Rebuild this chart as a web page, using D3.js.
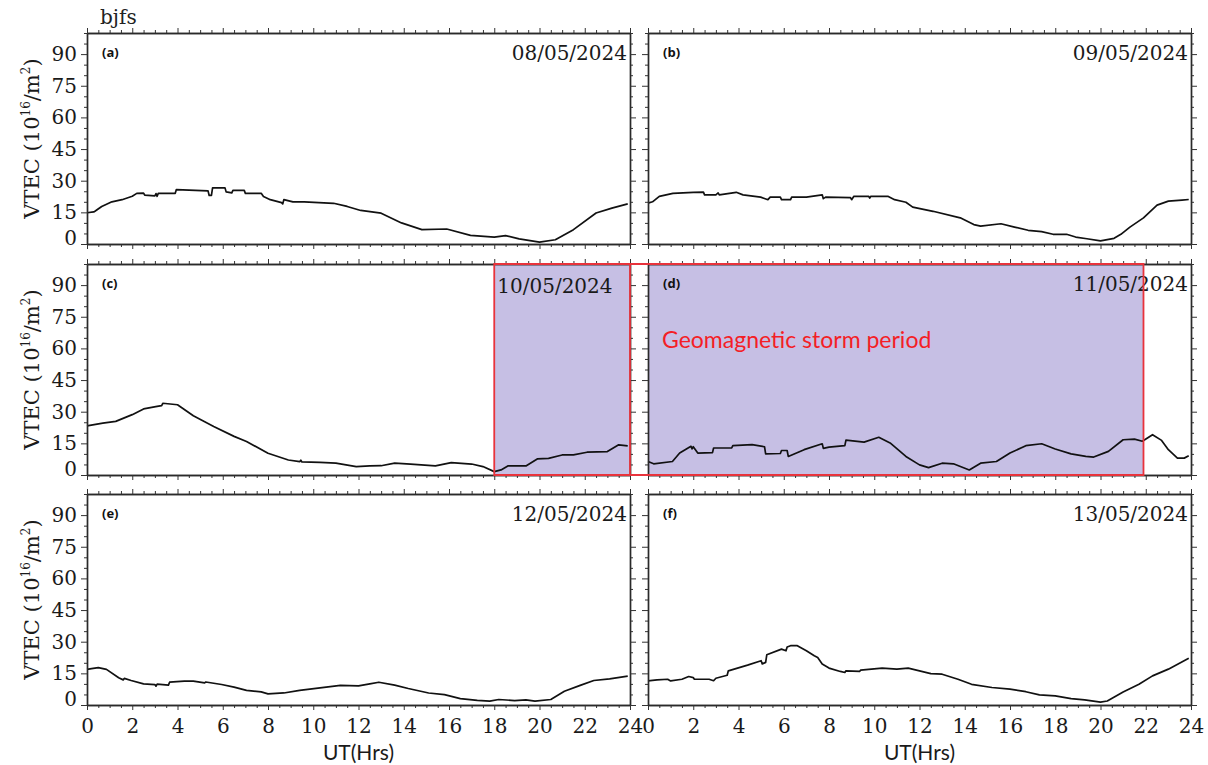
<!DOCTYPE html>
<html><head><meta charset="utf-8">
<script src="https://cdn.jsdelivr.net/npm/d3@7"></script>
<style>body{margin:0;background:#fff} svg{display:block}</style>
</head><body><svg id="chart" width="1208" height="765"></svg>
<script>
// ---------------- data ----------------
const station = "bjfs";
const panelLetters = ["(a)", "(b)", "(c)", "(d)", "(e)", "(f)"];
const dates = ["08/05/2024", "09/05/2024", "10/05/2024", "11/05/2024", "12/05/2024", "13/05/2024"];
const yTickValues = [0, 15, 30, 45, 60, 75, 90];
const xTickValues = [0, 2, 4, 6, 8, 10, 12, 14, 16, 18, 20, 22, 24];
const xAxisTitle = "UT(Hrs)";
const stormLabel = "Geomagnetic storm period";
const stormStartHour = 18;   // on 10/05/2024 (panel c)
const stormEndHour = 21.9;   // on 11/05/2024 (panel d)

const hoursA = [0,0.3,0.35,0.65,1.1,1.55,2.0,2.2,2.5,2.55,3.0,3.05,3.1,3.15,3.9,3.95,5.35,5.4,5.5,5.55,6.1,6.15,6.4,6.45,6.95,7.0,7.7,7.8,8.1,8.6,8.65,8.7,9.1,9.6,10.9,11.5,12.1,13.0,13.9,14.8,15.9,16.95,18.0,18.5,19.1,20.0,20.7,21.5,22.5,23.2,23.9];
const vtecA  = [14.8,15.2,15.5,17.8,20,21,22.6,24,24.1,23.2,22.8,23.9,22.6,24,24,25.8,25.2,23,23,26.6,26.6,24.7,24.2,25.4,25.4,24,24,22.5,21,19.6,19,21,20,20,19.3,17.8,15.9,14.6,10,6.8,7.1,4.1,3.3,4,2.4,0.9,2,6.8,14.7,17,19];

const hoursB = [0,0.2,0.5,1.1,2.0,2.45,2.5,3.0,3.1,3.15,3.9,4.2,4.98,5.3,5.4,5.85,5.9,6.3,6.35,7.0,7.7,7.75,7.85,8.95,9.0,9.1,9.75,9.8,9.85,10.6,10.9,11.4,11.7,12.6,13.8,14.4,14.7,15.6,16.2,16.8,17.4,17.9,18.5,18.9,19.4,20.0,20.6,20.9,21.3,21.9,22.5,23.0,23.6,23.9];
const vtecB  = [19.4,20,22.6,24,24.5,24.6,23.3,23.3,24.2,23.3,24.5,23.3,22.2,21,22.2,22.2,21,21,22.2,22.2,23.3,21.5,22.2,22,21,22.6,22.6,21.8,22.6,22.6,21,19.8,17.5,15.5,12.4,9.2,8.5,9.6,8,6.5,5.9,4.6,4.6,3.3,2.5,1.5,2.7,4.6,8,12.4,18.4,20.3,20.8,21.1];

const hoursC = [0,0.7,1.27,2,2.5,3.1,3.3,3.35,4.0,4.7,5.6,6.5,7.05,8,8.9,9.4,9.45,9.5,10.3,11,11.9,12.5,13,13.6,14.3,15.4,16.1,17,17.5,18,18.3,18.6,19.4,19.9,20.4,21,21.5,22.1,23,23.5,23.9];
const vtecC  = [23.3,24.6,25.4,28.6,31.3,32.5,32.9,34,33.3,28.1,23,18.3,15.9,10.3,7.1,6.3,7,6.2,6,5.6,4,4.3,4.4,5.6,5.2,4.3,5.9,5.2,4,1.6,2.4,4.3,4.3,7.6,7.9,9.5,9.5,10.8,11.1,14.3,13.8];

const hoursD = [0,0.25,1.08,1.4,1.9,1.95,2.0,2.2,2.85,2.9,3.7,3.75,4.6,5.15,5.2,5.85,5.9,6.15,6.2,6.9,7.7,7.75,8.0,8.7,8.75,9.55,10.2,10.7,11.4,12.0,12.4,13.0,13.5,14.2,14.7,15.4,16.0,16.7,17.4,18.0,18.7,19.35,19.7,20.35,21.0,21.5,21.85,22.3,22.7,23.0,23.4,23.7,23.9];
const vtecD  = [6.4,5.3,6.4,10.4,13.6,12.4,13.4,10.4,10.6,12.8,12.8,13.9,14.4,13.4,10,10.2,11.6,11.6,8.8,12,14.8,12.6,13.2,13.9,16.5,15.6,17.9,15.2,8.8,4.8,3.5,5.6,5.3,2.4,5.6,6.4,10.4,13.9,14.8,12.3,10,8.8,8.5,11.2,16.7,17,16,19.1,16.4,12,8,8,9.1];

const hoursE = [0,0.2,0.5,0.86,1.4,1.6,1.65,1.95,2.5,3.0,3.05,3.1,3.6,3.65,4.3,4.7,5.2,5.25,5.95,6.5,7.05,7.7,8.0,8.7,9.4,10.3,11.2,12.0,12.5,12.9,13.6,14.2,15.1,15.8,16.5,17.25,17.8,18.2,18.9,19.4,19.8,20.5,21.1,21.8,22.4,23.1,23.9];
const vtecE  = [16.9,17.2,17.7,16.9,12.9,11.9,12.6,11.6,10,9.7,8.9,9.9,9.4,10.8,11.3,11.3,10.5,10.9,9.7,8.5,6.9,6.2,5.3,5.7,6.9,8.1,9.3,9.1,10,10.8,9.4,7.8,5.7,4.9,3,2.2,1.8,2.6,2.1,2.4,1.8,2.6,6.5,9.3,11.6,12.4,13.7];

const hoursF = [0,0.4,0.87,1.0,1.5,1.8,2.0,2.05,2.7,2.9,3.0,3.5,3.55,4.4,5.0,5.05,5.2,5.25,5.9,6.1,6.15,6.3,6.6,7.0,7.35,7.5,7.7,8.0,8.5,8.7,8.75,9.35,9.4,10.35,11.0,11.5,12.0,12.5,13.0,13.7,14.3,15.2,16.0,16.7,17.3,18.0,18.7,19.3,20.0,20.3,21.0,21.7,22.3,23.0,23.9];
const vtecF  = [11.4,11.9,12.2,11.4,12.2,13.5,13,12.2,12.2,11.5,12.7,14.1,16.2,18.9,21,19.5,20.2,23.8,26.5,25.7,27.5,28.1,28.1,25.7,23.3,22.5,19.4,17.5,15.9,15.4,16.2,15.9,16.5,17.5,17,17.5,16.2,14.9,14.6,12.2,9.8,8.3,7.5,6.3,4.8,4.3,3,2.4,1.4,1.9,6.2,9.8,13.8,17,22.1];

const panelHours = [hoursA, hoursB, hoursC, hoursD, hoursE, hoursF];
const panelVtec  = [vtecA, vtecB, vtecC, vtecD, vtecE, vtecF];

// ---------------- layout ----------------
const svg = d3.select("#chart");
const W = 543, H = 211;
const colX = [87, 648];
const rowY = [33, 264, 494];
const serif = "DejaVu Serif";
const stormFill = "#c6bfe4";
const stormRed = "#e8333c";

const minorY = d3.range(0, 101, 5).filter(v => v % 15 !== 0);
const minorX = d3.range(0, 24.01, 0.5).filter(v => v % 2 !== 0);

svg.append("text").attr("x", 100).attr("y", 24)
  .attr("font-family", serif).attr("font-size", 20).attr("fill", "#222").text(station);

const scales = [];

panelLetters.forEach((letter, i) => {
  const col = i % 2, row = Math.floor(i / 2);
  const left = colX[col], top = rowY[row];
  const x = d3.scaleLinear([0, 24], [left, left + W]);
  const y = d3.scaleLinear([0, 100], [top + H, top]);
  scales.push({x, y, top, left});
  const g = svg.append("g");

  // storm shading
  if (i === 2) {
    g.append("rect").attr("x", x(stormStartHour)).attr("y", top)
      .attr("width", x(24) - x(stormStartHour)).attr("height", H).attr("fill", stormFill);
  }
  if (i === 3) {
    g.append("rect").attr("x", x(0)).attr("y", top)
      .attr("width", x(stormEndHour) - x(0)).attr("height", H).attr("fill", stormFill);
  }

  // data line
  const pts = panelHours[i].map((h, k) => [h, panelVtec[i][k]]);
  g.append("path").datum(pts)
    .attr("d", d3.line().x(d => x(d[0])).y(d => y(d[1])))
    .attr("fill", "none").attr("stroke", "#111").attr("stroke-width", 1.7)
    .attr("stroke-linejoin", "round");

  const styleAxis = sel => {
    sel.select(".domain").attr("stroke", "#2a2a2a").attr("stroke-width", 1.4);
    sel.selectAll(".tick line").attr("stroke", "#333").attr("stroke-width", 1);
    sel.attr("font-family", serif).attr("font-size", 20);
    sel.selectAll(".tick text").attr("fill", "#1a1a1a");
  };

  // bottom
  g.append("g").attr("transform", `translate(0,${top + H})`)
    .call(d3.axisBottom(x).tickValues(minorX).tickSize(3).tickSizeOuter(0).tickFormat(""))
    .call(styleAxis);
  g.append("g").attr("transform", `translate(0,${top + H})`)
    .call(d3.axisBottom(x).tickValues(xTickValues).tickSize(5).tickSizeOuter(0).tickPadding(9)
      .tickFormat(row === 2 ? d3.format("d") : ""))
    .call(styleAxis);
  // top
  g.append("g").attr("transform", `translate(0,${top})`)
    .call(d3.axisTop(x).tickValues(minorX).tickSize(3).tickSizeOuter(0).tickFormat(""))
    .call(styleAxis);
  g.append("g").attr("transform", `translate(0,${top})`)
    .call(d3.axisTop(x).tickValues(xTickValues).tickSize(5).tickSizeOuter(0).tickFormat(""))
    .call(styleAxis);
  // left
  g.append("g").attr("transform", `translate(${left},0)`)
    .call(d3.axisLeft(y).tickValues(minorY).tickSize(3).tickSizeOuter(0).tickFormat(""))
    .call(styleAxis);
  const la = g.append("g").attr("transform", `translate(${left},0)`)
    .call(d3.axisLeft(y).tickValues(yTickValues).tickSize(6).tickSizeOuter(0).tickPadding(4)
      .tickFormat(col === 0 ? d3.format("d") : ""))
    .call(styleAxis);
  la.selectAll(".tick text").filter(d => d === 0).attr("dy", "0em");
  // right
  g.append("g").attr("transform", `translate(${left + W},0)`)
    .call(d3.axisRight(y).tickValues(minorY).tickSize(3).tickSizeOuter(0).tickFormat(""))
    .call(styleAxis);
  g.append("g").attr("transform", `translate(${left + W},0)`)
    .call(d3.axisRight(y).tickValues(yTickValues).tickSize(6).tickSizeOuter(0).tickFormat(""))
    .call(styleAxis);

  // panel letter
  g.append("text").attr("x", left + 15).attr("y", top + 24)
    .attr("font-family", "Open Sans").attr("font-weight", 700).attr("font-size", 13)
    .attr("fill", "#111").text(letter);

  // date
  const dt = g.append("text").attr("font-family", serif).attr("font-size", 20).attr("fill", "#1a1a1a").text(dates[i]);
  if (i === 2) {
    dt.attr("x", x(stormStartHour) + 3).attr("y", top + 29).attr("text-anchor", "start");
  } else {
    dt.attr("x", left + W - 3).attr("y", top + 27).attr("text-anchor", "end");
  }

  // y-axis title
  if (col === 0) {
    const t = g.append("text")
      .attr("transform", `translate(39,${top + H / 2}) rotate(-90)`)
      .attr("text-anchor", "middle").attr("font-family", serif).attr("font-size", 21).attr("fill", "#1a1a1a");
    t.append("tspan").text("VTEC (10");
    t.append("tspan").attr("font-size", 12).attr("dy", -9).text("16");
    t.append("tspan").attr("dy", 9).text("/m");
    t.append("tspan").attr("font-size", 12).attr("dy", -9).text("2");
    t.append("tspan").attr("dy", 9).text(")");
  }

  // x-axis title
  if (row === 2) {
    g.append("text").attr("x", (x(0) + x(24)) / 2).attr("y", 760)
      .attr("text-anchor", "middle").attr("font-family", "Lato").attr("font-size", 21)
      .attr("fill", "#1a1a1a").text(xAxisTitle);
  }
});

// storm outline (spans panels c and d)
const sc = scales[2], sd = scales[3];
const rx0 = sc.x(stormStartHour), rx1 = sd.x(stormEndHour);
const ry0 = sc.top, ry1 = sc.top + H;
const red = svg.append("g").attr("fill", "none").attr("stroke", stormRed).attr("stroke-width", 1.8);
red.append("path").attr("d", `M${rx0},${ry0}H${rx1}V${ry1}H${rx0}Z`);
red.append("line").attr("x1", sc.x(24)).attr("x2", sc.x(24)).attr("y1", ry0).attr("y2", ry1);

svg.append("text").attr("x", sd.x(0) + 14).attr("y", 348)
  .attr("font-family", "Lato").attr("font-size", 23).attr("fill", "#f41e26").text(stormLabel);
</script>
</body></html>
